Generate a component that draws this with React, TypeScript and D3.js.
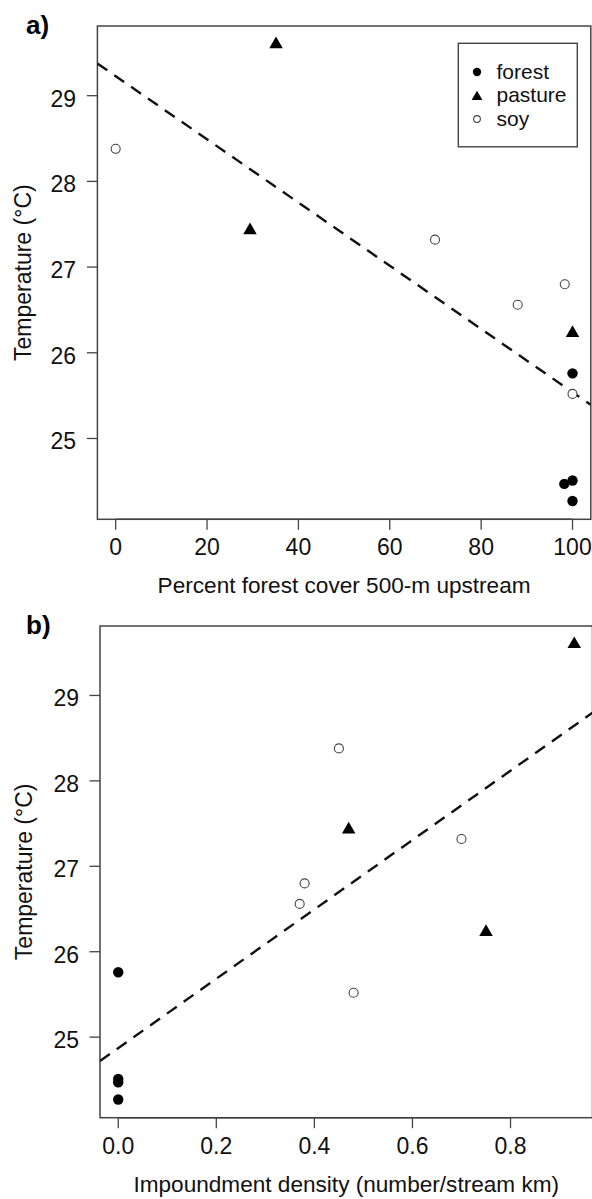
import React from "react";
import * as d3 from "d3";

// ---- data ----
const landUse = ["forest", "forest", "forest", "forest", "pasture", "pasture", "pasture", "soy", "soy", "soy", "soy", "soy"];
const temperature = [25.76, 24.51, 24.47, 24.27, 29.6, 27.43, 26.23, 28.38, 27.32, 26.8, 26.56, 25.52];
const forestCover = [100, 100, 98.2, 100, 35.1, 29.4, 100, 0, 69.9, 98.3, 88.0, 100];
const impoundment = [0, 0, 0, 0, 0.93, 0.47, 0.75, 0.45, 0.7, 0.38, 0.37, 0.48];

const tempTicks = [25, 26, 27, 28, 29];
const coverTicks = [0, 20, 40, 60, 80, 100];
const impoundTicks = [0, 0.2, 0.4, 0.6, 0.8];
const legendLabels = ["forest", "pasture", "soy"];

const FONT = "'Liberation Sans', Arial, Helvetica, sans-serif";
const FRAME = "#444";

function rExtent(v: number[]): [number, number] {
  const [a, b] = d3.extent(v) as [number, number];
  const d = (b - a) * 0.04;
  return [a - d, b + d];
}

function ols(xs: number[], ys: number[]) {
  const mx = d3.mean(xs) as number;
  const my = d3.mean(ys) as number;
  let sxy = 0;
  let sxx = 0;
  xs.forEach((x, i) => {
    sxy += (x - mx) * (ys[i] - my);
    sxx += (x - mx) * (x - mx);
  });
  const b = sxy / sxx;
  return { a: my - b * mx, b };
}

function Marker({ type, x, y, s }: { type: string; x: number; y: number; s: number }) {
  if (type === "forest") return <circle cx={x} cy={y} r={5.2 * s} fill="#000" />;
  if (type === "pasture") {
    const r = 7.8 * s;
    const xc = (r * Math.sqrt(3)) / 2;
    const yc = r / 2;
    return <path d={`M${x},${y - r}L${x + xc},${y + yc}L${x - xc},${y + yc}Z`} fill="#000" />;
  }
  return <circle cx={x} cy={y} r={4.5 * s} fill="#fff" stroke="#444" strokeWidth={1.1} />;
}

type PanelProps = {
  id: string;
  xs: number[];
  xTicks: number[];
  xFmt: (v: number) => string;
  xTitle: string;
  label: string;
  left: number;
  right: number;
  top: number;
  bottom: number;
  yLabelX: number;
  yTitleX: number;
  legend: boolean;
};

function Panel(p: PanelProps) {
  const x = d3.scaleLinear().domain(rExtent(p.xs)).range([p.left, p.right]);
  const y = d3.scaleLinear().domain(rExtent(temperature)).range([p.bottom, p.top]);
  const fit = ols(p.xs, temperature);
  const [x0, x1] = x.domain();
  const line = d3.line<number>().x((v) => x(v)).y((v) => y(fit.a + fit.b * v));
  const tickLen = 10.5;
  return (
    <g>
      <defs>
        <clipPath id={p.id}>
          <rect x={p.left} y={p.top} width={p.right - p.left} height={p.bottom - p.top} />
        </clipPath>
      </defs>
      <text x={26} y={p.top + 7.8} fontFamily={FONT} fontWeight="bold" fontSize={26} fill="#000">
        {p.label}
      </text>
      <rect x={p.left} y={p.top} width={p.right - p.left} height={p.bottom - p.top} fill="none" stroke={FRAME} strokeWidth={1.5} />
      {/* y axis */}
      {tempTicks.map((t) => (
        <g key={"y" + t}>
          <line x1={p.left - tickLen} x2={p.left} y1={y(t)} y2={y(t)} stroke={FRAME} strokeWidth={1.3} />
          <text x={p.yLabelX} y={y(t) + 11} textAnchor="end" fontFamily={FONT} fontSize={23} fill="#111">
            {t}
          </text>
        </g>
      ))}
      <text
        transform={`translate(${p.yTitleX},${(p.top + p.bottom) / 2}) rotate(-90)`}
        textAnchor="middle"
        fontFamily={FONT}
        fontSize={23}
        fill="#111"
      >
        Temperature (°C)
      </text>
      {/* x axis */}
      <line x1={x(p.xTicks[0])} x2={x(p.xTicks[p.xTicks.length - 1])} y1={p.bottom} y2={p.bottom} stroke={FRAME} strokeWidth={1.5} />
      {p.xTicks.map((t) => (
        <g key={"x" + t}>
          <line x1={x(t)} x2={x(t)} y1={p.bottom} y2={p.bottom + tickLen} stroke={FRAME} strokeWidth={1.3} />
          <text x={x(t)} y={p.bottom + 36} textAnchor="middle" fontFamily={FONT} fontSize={23} fill="#111">
            {p.xFmt(t)}
          </text>
        </g>
      ))}
      <text x={(p.left + p.right) / 2} y={p.bottom + 74} textAnchor="middle" fontFamily={FONT} fontSize={22.6} fill="#111">
        {p.xTitle}
      </text>
      {/* regression line */}
      <path d={line([x0, x1]) || ""} clipPath={`url(#${p.id})`} fill="none" stroke="#111" strokeWidth={2.4} strokeDasharray="12,8.5" />
      {/* points */}
      {p.xs.map((v, i) => (
        <Marker key={i} type={landUse[i]} x={x(v)} y={y(temperature[i])} s={1} />
      ))}
      {p.legend && (
        <g>
          <rect x={458.3} y={43.3} width={119} height={103.5} fill="#fff" stroke={FRAME} strokeWidth={1.4} />
          {legendLabels.map((l, i) => (
            <g key={l}>
              <Marker type={l} x={477} y={72 + i * 23.5 + (l === "pasture" ? 1.5 : 0)} s={l === "soy" ? 0.75 : 0.8} />
              <text x={496.5} y={78.5 + i * 23.5} fontFamily={FONT} fontSize={21} fill="#111">
                {l}
              </text>
            </g>
          ))}
        </g>
      )}
    </g>
  );
}

export default function App() {
  return (
    <svg width={592} height={1199} style={{ display: "block", position: "absolute", left: 0, top: 0, background: "#fff" }}>
      <rect x={0} y={0} width={592} height={1199} fill="#fff" />
      <Panel
        id="clipA"
        xs={forestCover}
        xTicks={coverTicks}
        xFmt={(v) => String(v)}
        xTitle="Percent forest cover 500-m upstream"
        label="a)"
        left={97.4}
        right={590.8}
        top={26}
        bottom={519.3}
        yLabelX={76}
        yTitleX={31}
        legend={true}
      />
      <Panel
        id="clipB"
        xs={impoundment}
        xTicks={impoundTicks}
        xFmt={(v) => d3.format(".1f")(v)}
        xTitle="Impoundment density (number/stream km)"
        label="b)"
        left={100}
        right={592.5}
        top={626}
        bottom={1117.7}
        yLabelX={79}
        yTitleX={32}
        legend={false}
      />
    </svg>
  );
}
